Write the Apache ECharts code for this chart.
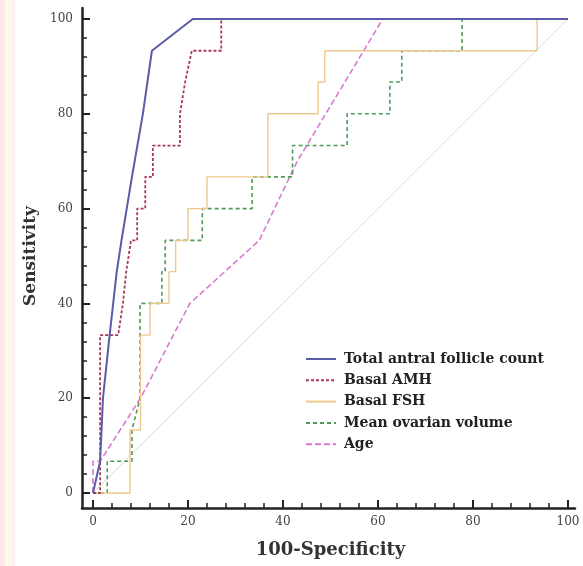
<!DOCTYPE html>
<html>
<head>
<meta charset="utf-8">
<script src="https://cdn.jsdelivr.net/npm/echarts@6/dist/echarts.min.js"></script>
<style>
  html, body { margin: 0; padding: 0; background: #fff; }
  #chart { width: 583px; height: 566px; }
</style>
</head>
<body>
<div id="chart"></div>
<script>
// ROC curves: [100 - specificity, sensitivity] pairs, in percent
const seriesNames = ['Total antral follicle count', 'Basal AMH', 'Basal FSH', 'Mean ovarian volume', 'Age'];

const rocTotalAFC = [
  [0, 0], [1.5, 6.7], [2.1, 20], [3.5, 33.3], [5, 46.7], [6, 53.3],
  [8.2, 66.7], [10.5, 80], [12.4, 93.3], [21, 100], [100, 100]
];
const rocAMH = [
  [0, 0], [1.5, 0], [1.5, 33.3], [5.3, 33.3], [6.3, 40], [7, 46.7], [8, 53.3],
  [9.3, 53.3], [9.3, 60], [11, 60], [11, 66.7], [12.6, 66.7], [12.6, 73.3],
  [18.3, 73.3], [18.3, 80], [19.4, 86.7], [20.8, 93.3], [27, 93.3], [27, 100], [100, 100]
];
const rocFSH = [
  [0, 0], [7.8, 0], [7.8, 13.3], [10, 13.3], [10, 33.3], [12, 33.3], [12, 40],
  [16, 40], [16, 46.7], [17.4, 46.7], [17.4, 53.3], [20, 53.3], [20, 60],
  [24, 60], [24, 66.7], [36.8, 66.7], [36.8, 80], [47.4, 80], [47.4, 86.7],
  [48.8, 86.7], [48.8, 93.3], [93.5, 93.3], [93.5, 100], [100, 100]
];
const rocOvarianVolume = [
  [0, 0], [3, 0], [3, 6.7], [8.2, 6.7], [8.2, 13.3], [9.9, 20], [9.9, 40],
  [14.5, 40], [14.5, 46.7], [15.2, 46.7], [15.2, 53.3], [23, 53.3], [23, 60],
  [33.5, 60], [33.5, 66.7], [42, 66.7], [42, 73.3], [53.5, 73.3], [53.5, 80],
  [62.5, 80], [62.5, 86.7], [65, 86.7], [65, 93.3], [77.7, 93.3], [77.7, 100], [100, 100]
];
const rocAge = [
  [0, 0], [0, 6.7], [1.5, 6.7], [10, 20], [20.4, 40], [35, 53.3],
  [43, 70], [61, 100], [100, 100]
];
const chanceLine = [[0, 0], [100, 100]];

const axisTicks = { min: 0, max: 100, interval: 20 };

const serif = "'DejaVu Serif', 'Liberation Serif', serif";
const axisColor = '#222';

function rocSeries(name, data, color, type, width) {
  return {
    name: name,
    type: 'line',
    data: data,
    symbol: 'none',
    clip: false,
    lineStyle: { color: color, width: width, type: type },
    itemStyle: { color: color },
    emphasis: { disabled: true },
    xAxisIndex: 0,
    yAxisIndex: 0
  };
}

const chart = echarts.init(document.getElementById('chart'), null, { renderer: 'canvas' });

chart.setOption({
  backgroundColor: '#ffffff',
  animation: false,
  graphic: [
    { type: 'rect', left: 0, top: 0, shape: { width: 5, height: 566 }, style: { fill: 'rgba(255,205,220,0.45)' }, silent: true },
    { type: 'rect', left: 5, top: 0, shape: { width: 7, height: 566 }, style: { fill: 'rgba(248,250,215,0.6)' }, silent: true },
    { type: 'rect', left: 12, top: 0, shape: { width: 3, height: 566 }, style: { fill: 'rgba(255,215,235,0.45)' }, silent: true }
  ],
  grid: [
    { left: 93, top: 19, right: 15, bottom: 73 },
    { left: 82, top: 8, width: 493, height: 500 }
  ],
  legend: {
    data: seriesNames,
    orient: 'vertical',
    left: 300,
    top: 347,
    itemWidth: 30,
    itemHeight: 14,
    itemGap: 7.3,
    itemStyle: { opacity: 0 },
    textStyle: {
      fontFamily: serif,
      fontWeight: 'bold',
      fontSize: 14,
      color: '#222',
      padding: [0, 0, 0, 3]
    },
    selectedMode: false
  },
  xAxis: [
    {
      type: 'value',
      gridIndex: 0,
      min: axisTicks.min,
      max: axisTicks.max,
      interval: axisTicks.interval,
      offset: 15,
      name: '100-Specificity',
      nameLocation: 'middle',
      nameGap: 33,
      nameTextStyle: { fontFamily: serif, fontWeight: 'bold', fontSize: 18, color: '#333' },
      axisLine: { show: true, onZero: false, lineStyle: { color: 'rgba(0,0,0,0)' } },
      axisTick: { show: true, inside: true, length: 8, lineStyle: { color: axisColor, width: 2 } },
      minorTick: { show: true, splitNumber: 5, length: 5, lineStyle: { color: axisColor, width: 1.5 } },
      axisLabel: { fontFamily: serif, fontSize: 12, color: '#444', margin: 8 },
      splitLine: { show: false }
    },
    {
      type: 'value',
      gridIndex: 1,
      min: 0,
      max: 1,
      position: 'bottom',
      axisLine: { show: true, onZero: false, lineStyle: { color: axisColor, width: 2.5 } },
      axisTick: { show: false },
      axisLabel: { show: false },
      splitLine: { show: false }
    }
  ],
  yAxis: [
    {
      type: 'value',
      gridIndex: 0,
      min: axisTicks.min,
      max: axisTicks.max,
      interval: axisTicks.interval,
      offset: 11,
      name: 'Sensitivity',
      nameLocation: 'middle',
      nameRotate: 90,
      nameGap: 36,
      nameTextStyle: { fontFamily: serif, fontWeight: 'bold', fontSize: 17, color: '#333' },
      axisLine: { show: true, onZero: false, lineStyle: { color: 'rgba(0,0,0,0)' } },
      axisTick: { show: true, inside: true, length: 8, lineStyle: { color: axisColor, width: 2 } },
      minorTick: { show: true, splitNumber: 5, length: 5, lineStyle: { color: axisColor, width: 1.5 } },
      axisLabel: { fontFamily: serif, fontSize: 12, color: '#444', margin: 9 },
      splitLine: { show: false }
    },
    {
      type: 'value',
      gridIndex: 1,
      min: 0,
      max: 1,
      position: 'left',
      axisLine: { show: true, onZero: false, lineStyle: { color: axisColor, width: 2.5 } },
      axisTick: { show: false },
      axisLabel: { show: false },
      splitLine: { show: false }
    }
  ],
  series: [
    {
      type: 'line',
      data: chanceLine,
      symbol: 'none',
      silent: true,
      lineStyle: { color: '#d9d9d9', width: 1 },
      xAxisIndex: 0,
      yAxisIndex: 0
    },
    rocSeries(seriesNames[4], rocAge, '#d97ad0', [6, 3], 1.6),
    rocSeries(seriesNames[3], rocOvarianVolume, '#4f9a5a', [4, 3], 1.6),
    rocSeries(seriesNames[2], rocFSH, '#f0c88c', 'solid', 1.4),
    rocSeries(seriesNames[1], rocAMH, '#a8385c', [3, 2], 1.8),
    rocSeries(seriesNames[0], rocTotalAFC, '#5b5ca8', 'solid', 2)
  ]
});
</script>
</body>
</html>
